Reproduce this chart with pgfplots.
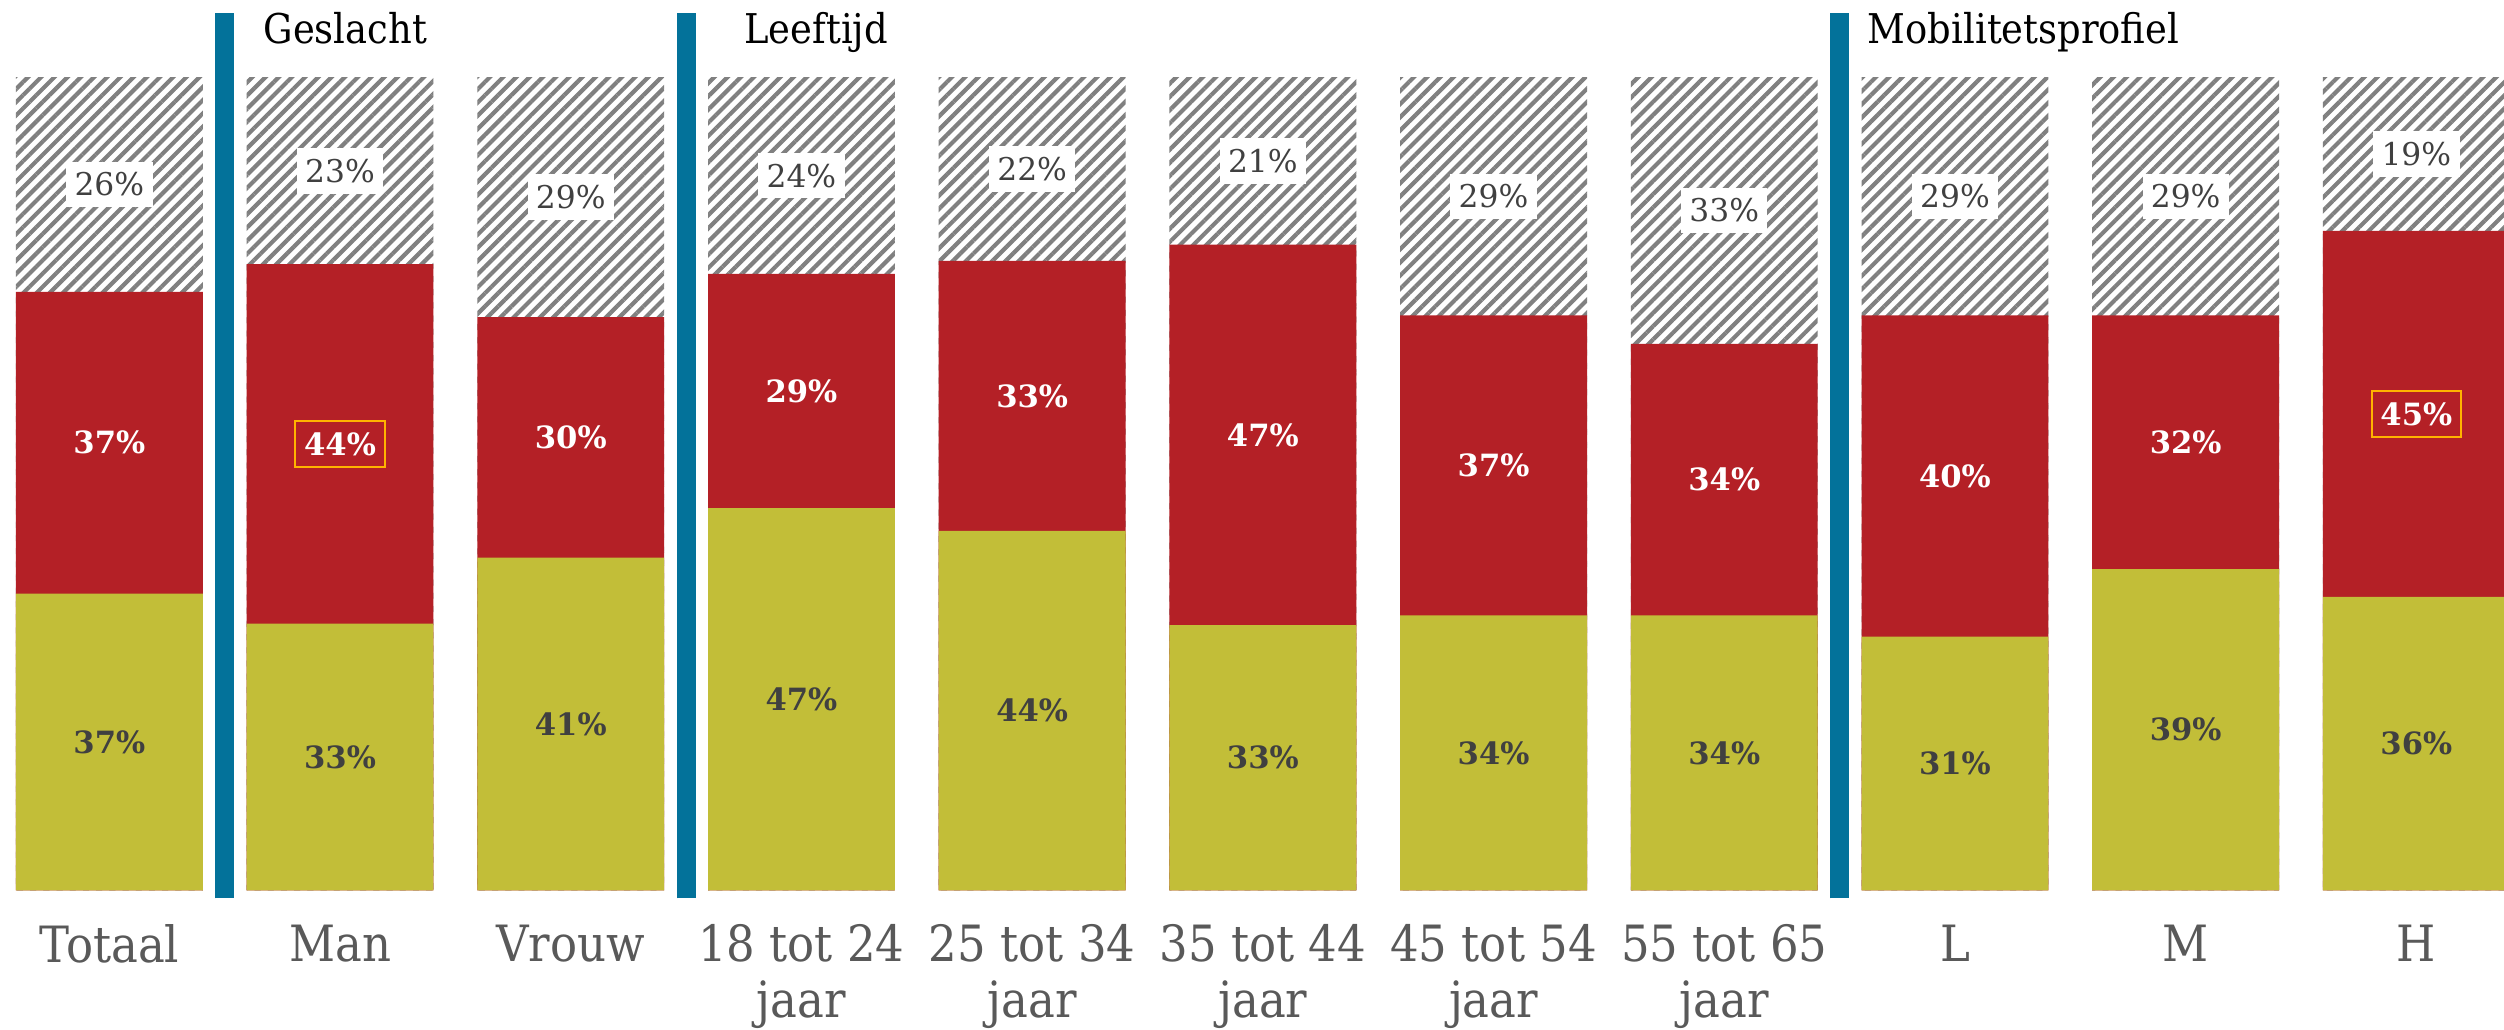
\documentclass[border=0pt]{standalone}
\usepackage{fontspec}
\setmainfont{DejaVu Serif}
\newfontfamily\condfont{DejaVu Serif}[FakeStretch=0.9]
\newfontfamily\labfont{DejaVu Serif}
\usepackage{pgfplots}
\pgfplotsset{compat=1.18}
\usepackage{pgfplotstable}
\usetikzlibrary{patterns.meta}
\definecolor{cgreen}{HTML}{C2BE38}
\definecolor{cred}{HTML}{B42026}
\definecolor{cblue}{HTML}{03729A}
\definecolor{chatch}{HTML}{808080}
\definecolor{ctext}{HTML}{404040}
\definecolor{ctick}{HTML}{595959}
\definecolor{chl}{HTML}{FFB300}

% x: category index; g: green share, r: red share, h: hatched share; gl/rl/hl: printed labels
\pgfplotstableread{
x  g    r    h    gl rl hl
0  36.5 37.1 26.4 37 37 26
1  32.8 44.2 23.0 33 44 23
2  40.9 29.6 29.5 41 30 29
3  47.0 28.8 24.2 47 29 24
4  44.2 33.2 22.6 44 33 22
5  32.6 46.8 20.6 33 47 21
6  33.8 36.9 29.3 34 37 29
7  33.8 33.4 32.8 34 34 33
8  31.2 39.5 29.3 31 40 29
9  39.5 31.2 29.3 39 32 29
10 36.1 45.0 18.9 36 45 19
}\data

\pgfplotstableread{
x  g    r    rl
1  32.8 44.2 44
10 36.1 45.0 45
}\hidata

\begin{document}
\begin{tikzpicture}
\begin{axis}[
  at={(0,0)}, anchor=north west,
  scale only axis, width=751.2pt, height=270pt,
  xmin=-0.474, xmax=10.38, ymin=-1.2, ymax=109.5,
  axis line style={draw=none}, tick style={draw=none},
  ytick=\empty, xtick={0,...,10},
  xticklabels={Totaal, Man, Vrouw, {18 tot 24\\jaar}, {25 tot 34\\jaar}, {35 tot 44\\jaar}, {45 tot 54\\jaar}, {55 tot 65\\jaar}, L, M, H},
  xticklabel style={align=center, anchor=north, inner sep=0pt, yshift=-7.2pt,
    font=\condfont\fontsize{15}{16.8}\selectfont, text=ctick},
]
% hatched (top) bars: full stack height
\addplot[ybar, bar width=0.81, bar shift=0pt, draw=none,
  pattern={Lines[angle=45, distance=2.8pt, line width=1.25pt]}, pattern color=chatch]
  table[x=x, y expr=\thisrow{g}+\thisrow{r}+\thisrow{h}] {\data};
% red (middle) bars
\addplot[ybar, bar width=0.81, bar shift=0pt, draw=none, fill=cred]
  table[x=x, y expr=\thisrow{g}+\thisrow{r}] {\data};
% green (bottom) bars
\addplot[ybar, bar width=0.81, bar shift=0pt, draw=none, fill=cgreen]
  table[x=x, y=g] {\data};
% separators
\addplot[cblue, line width=5.7pt] coordinates {(0.5,-1) (0.5,107.9)};
\addplot[cblue, line width=5.7pt] coordinates {(2.5,-1) (2.5,107.9)};
\addplot[cblue, line width=5.7pt] coordinates {(7.5,-1) (7.5,107.9)};
% labels: green
\addplot[draw=none, point meta=explicit symbolic,
  nodes near coords={\pgfplotspointmeta\%}, nodes near coords align={center},
  every node near coord/.append style={anchor=center, text=ctext,
    font=\labfont\bfseries\fontsize{9.2}{10}\selectfont}]
  table[x=x, y expr=\thisrow{g}/2, meta=gl] {\data};
% labels: red
\addplot[draw=none, point meta=explicit symbolic,
  skip coords between index={1}{2}, skip coords between index={10}{11},
  nodes near coords={\pgfplotspointmeta\%}, nodes near coords align={center},
  every node near coord/.append style={anchor=center, text=white,
    font=\labfont\bfseries\fontsize{9.2}{10}\selectfont}]
  table[x=x, y expr=\thisrow{g}+\thisrow{r}/2, meta=rl] {\data};
\addplot[draw=none, point meta=explicit symbolic,
  nodes near coords={\pgfplotspointmeta\%}, nodes near coords align={center},
  every node near coord/.append style={anchor=center, text=white, draw=chl, line width=0.6pt,
    inner xsep=2.6pt, inner ysep=3.5pt,
    font=\labfont\bfseries\fontsize{9.2}{10}\selectfont}]
  table[x=x, y expr=\thisrow{g}+\thisrow{r}/2, meta=rl] {\hidata};
% labels: hatched
\addplot[draw=none, point meta=explicit symbolic,
  nodes near coords={\pgfplotspointmeta\%}, nodes near coords align={center},
  every node near coord/.append style={anchor=center, text=ctext, fill=white,
    inner xsep=2.5pt, inner ysep=3.3pt,
    font=\labfont\fontsize{9.4}{10}\selectfont}]
  table[x=x, y expr=\thisrow{g}+\thisrow{r}+\thisrow{h}/2, meta=hl] {\data};
% group titles
\node[anchor=base west, inner sep=0pt, font=\condfont\fontsize{12.3}{14}\selectfont] at (axis cs:0.666,104.2) {Geslacht};
\node[anchor=base west, inner sep=0pt, font=\condfont\fontsize{12.3}{14}\selectfont] at (axis cs:2.75,104.2) {Leeftijd};
\node[anchor=base west, inner sep=0pt, font=\condfont\fontsize{12.3}{14}\selectfont] at (axis cs:7.62,104.2) {Mobilitetsprofiel};
\end{axis}
\pgfresetboundingbox
\path[use as bounding box] (0,0) rectangle (751.2pt,-308.7pt);
\end{tikzpicture}
\end{document}
